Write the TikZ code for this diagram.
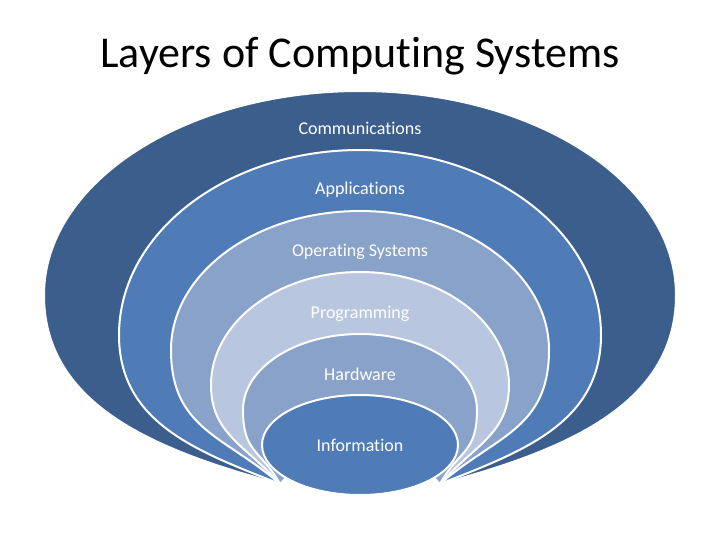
\documentclass[tikz,border=0pt]{standalone}
\usepackage{fontspec}
\setmainfont{Carlito}[Ligatures={NoCommon}]
\definecolor{cOuter}{HTML}{3B5E8C}
\definecolor{cApp}{HTML}{4F7BB6}
\definecolor{cOS}{HTML}{89A2C9}
\definecolor{cProg}{HTML}{B9C6DF}
\definecolor{cHw}{HTML}{89A2C9}
\definecolor{cInfo}{HTML}{4F7BB6}
\tikzset{
  layer/.style={fill=#1, draw=white, line width=2pt, line join=round},
  lbl/.style={text=white, font=\fontsize{18}{21}\selectfont, anchor=base, inner sep=0pt},
  ttl/.style={text=black, font=\fontsize{44}{52}\selectfont, anchor=base, inner sep=0pt}
}
\begin{document}
\begin{tikzpicture}[x=1pt,y=-1pt]
\path[use as bounding box, fill=white] (0,0) rectangle (720,540);
\node[ttl] (title) at (360,68) {Layers of Computing Systems};
% Communications (outer)
\path[layer=cOuter] (280,484) .. controls (162,452) and (44,408) .. (44,295)
  .. controls (44,182.3) and (185.5,91) .. (360,91)
  .. controls (534.5,91) and (676,182.3) .. (676,295)
  .. controls (676,408) and (558,452) .. (440,484)
  .. controls (400,440) and (320,440) .. (280,484) -- cycle;
% Applications
\path[layer=cApp] (280,484) .. controls (199.5,452) and (119,424) .. (119,335)
  .. controls (119,232.8) and (226.9,150) .. (360,150)
  .. controls (493.1,150) and (601,232.8) .. (601,335)
  .. controls (601,424) and (520.5,452) .. (440,484)
  .. controls (400,440) and (320,440) .. (280,484) -- cycle;
% Operating Systems
\path[layer=cOS] (280,484) .. controls (225.5,436) and (171,429.8) .. (171,350)
  .. controls (171,273.2) and (255.6,211) .. (360,211)
  .. controls (464.4,211) and (549,273.2) .. (549,350)
  .. controls (549,429.8) and (494.5,436) .. (440,484)
  .. controls (400,440) and (320,440) .. (280,484) -- cycle;
% Programming
\path[layer=cProg] (280,484) .. controls (245.5,445) and (211,434) .. (211,385)
  .. controls (211,322.6) and (277.7,272) .. (360,272)
  .. controls (442.3,272) and (509,322.6) .. (509,385)
  .. controls (509,434) and (474.5,445) .. (440,484)
  .. controls (400,440) and (320,440) .. (280,484) -- cycle;
% Hardware
\path[layer=cHw] (280,484) .. controls (261.5,450) and (243,453.8) .. (243,410)
  .. controls (243,368) and (295.4,334) .. (360,334)
  .. controls (424.6,334) and (477,368) .. (477,410)
  .. controls (477,453.8) and (458.5,450) .. (440,484)
  .. controls (400,440) and (320,440) .. (280,484) -- cycle;
% Information
\path[layer=cInfo] (360,445) ellipse [x radius=98, y radius=50];
\node[lbl] (comm) at (360,135) {Communications};
\node[lbl] (app) at (360,195) {Applications};
\node[lbl] (os) at (360,256) {Operating Systems};
\node[lbl] (prog) at (360,318) {Programming};
\node[lbl] (hw) at (360,380) {Hardware};
\node[lbl] (info) at (360,451) {Information};
\end{tikzpicture}
\end{document}
